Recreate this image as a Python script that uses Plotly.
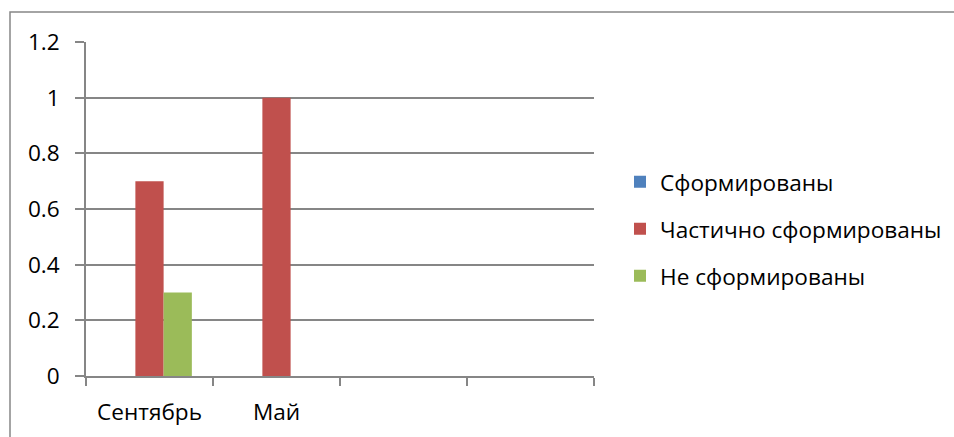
import plotly.graph_objects as go

categories = ["Сентябрь", "Май", " ", "  "]
series_names = ["Сформированы", "Частично сформированы", "Не сформированы"]
formed = [0, 0, None, None]
partly = [0.7, 1.0, None, None]
not_formed = [0.3, 0, None, None]
colors = ["#4F81BD", "#C0504D", "#9BBB59"]
y_ticks = [0, 0.2, 0.4, 0.6, 0.8, 1, 1.2]
y_tick_labels = ["0", "0.2", "0.4", "0.6", "0.8", "1", "1.2"]

FONT = "Open Sans"
FS = 22.6
grid = "#868686"

fig = go.Figure()
legends = ["legend", "legend2", "legend3"]
for name, vals, col, lg in zip(series_names, [formed, partly, not_formed], colors, legends):
    fig.add_trace(go.Bar(x=categories, y=vals, name=name, marker_color=col,
                         marker_line_width=0, legend=lg))

L, R, T, B = 86, 594, 42, 376
W, H = 954, 437
pw, ph = R - L, B - T

def px(x):
    return (x - L) / pw

def py(y):
    return (B - y) / ph

leg_common = dict(xanchor="left", yanchor="middle", bgcolor="rgba(0,0,0,0)",
                  font=dict(family=FONT, size=FS, color="#000"), itemwidth=30)
layout_legends = {}
for lg, yc in zip(legends, [182, 229, 276]):
    layout_legends[lg] = dict(x=px(620), y=py(yc), **leg_common)

fig.update_layout(
    width=W, height=H,
    margin=dict(l=L, r=W - R, t=T, b=H - B, autoexpand=False),
    paper_bgcolor="white", plot_bgcolor="white",
    barmode="group", bargap=0.333, bargroupgap=0,
    font=dict(family=FONT, size=FS, color="#000"),
    showlegend=True,
    **layout_legends,
    xaxis=dict(type="category", categoryarray=categories, range=[-0.5, 3.5],
               tickson="boundaries", ticks="outside", ticklen=8, tickcolor=grid, tickwidth=1.5,
               showline=True, linecolor=grid, linewidth=1.5, showgrid=False,
               ticklabelstandoff=15, tickfont=dict(family=FONT, size=FS)),
    yaxis=dict(range=[0, 1.2], tickvals=y_ticks, ticktext=y_tick_labels,
               ticks="outside", ticklen=9, tickcolor=grid, tickwidth=1.5,
               showline=True, linecolor=grid, linewidth=1.5,
               showgrid=True, gridcolor=grid, gridwidth=1.5, zeroline=False,
               tickfont=dict(family=FONT, size=FS), ticklabelstandoff=11),
    shapes=[dict(type="rect", xref="paper", yref="paper",
                 x0=px(10), x1=px(W + 20), y0=py(H + 20), y1=py(12),
                 line=dict(color="#878787", width=1.5), fillcolor="rgba(0,0,0,0)", layer="below")],
)

fig.write_html("out.html", config={"displayModeBar": False},
               post_script="document.body.style.margin='0';")
